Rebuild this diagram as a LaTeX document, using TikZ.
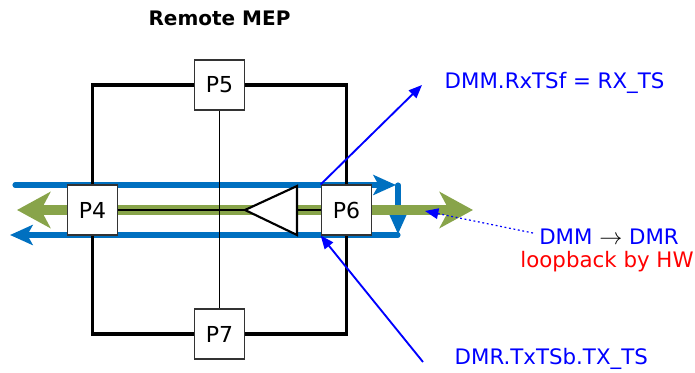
\documentclass[tikz,border=0pt]{standalone}
\usepackage{fontspec}
\setmainfont{DejaVu Sans}
\usepackage{xcolor}
\usepackage{tikz}
\usetikzlibrary{arrows.meta}
\definecolor{portblue}{HTML}{0070C0}
\definecolor{loopgreen}{HTML}{88A44A}

\begin{document}
\begin{tikzpicture}[x=0.75pt,y=-0.75pt,
    port/.style={draw=black!80,fill=white,line width=0.8pt,minimum width=38pt,minimum height=37.5pt,inner sep=0pt,font=\fontsize{16.5}{19}\selectfont},
    frame/.style={line width=2.7pt},
    flow/.style={portblue,line width=3.8pt,line cap=round,-{Stealth[length=17pt,width=15pt,inset=4pt]}},
    hwloop/.style={loopgreen,line width=7.5pt,{Stealth[length=25pt,width=27pt,inset=7pt]}-{Stealth[length=25pt,width=27pt,inset=7pt]}},
    note/.style={blue,line width=1.4pt,-{Triangle[length=10pt,width=8pt]}},
    lbl/.style={font=\fontsize{16}{19}\selectfont}]
\useasboundingbox (0,0) rectangle (695,373);
    \coordinate (ts) at (15,185);
    \coordinate (tr) at (396,185);
    \coordinate (rt) at (398,185);
    \coordinate (rb) at (398,234);
    \coordinate (br) at (398,235);
    \coordinate (bs) at (10,235);
    \coordinate (gl) at (17,210);
    \coordinate (gr) at (473,210);
  \draw[flow] (ts) -- (tr);
  \draw[flow] (rt) -- (rb);
  \draw[flow] (br) -- (bs);
  \draw[hwloop] (gl) -- (gr);
    \coordinate (base) at (297,210);
    \coordinate (tip) at (245,210);
  \draw[fill=white,line width=1.6pt,line join=miter] (297,186) -- (tip) -- (297,235) -- cycle;
\node[port] at (219.5,85) (p5) {P5};
\node[port] at (92.5,210) (p4) {P4};
\node[port] at (346.5,210) (p6) {P6};
\node[port] at (219.5,334) (p7) {P7};
  \draw[frame] (p5) -| (p4);
  \draw[frame] (p4) |- (p7);
  \draw[frame] (p7) -| (p6);
  \draw[frame] (p6) |- (p5);
  \draw[line width=1.6pt] (p4) -- (tip);
  \draw[line width=1.6pt] (base) -- (p6);
  \draw[line width=1.4pt] (p5) -- (p7);
\node[font=\bfseries\fontsize{15}{18}\selectfont] at (219.5,18) (title) {Remote MEP};
\node[lbl,blue,anchor=west] at (440,83) (rx) {DMM.RxTSf = RX\_TS};
\node[lbl,blue,anchor=west] at (450,359) (tx) {DMR.TxTSb.TX\_TS};
\node[lbl,blue] at (609,237) (dir) {DMM \textcolor{black}{$\rightarrow$} DMR};
\node[lbl,red] at (607,262) (lb) {loopback by HW};
    \coordinate (rxend) at (422,85);
    \coordinate (txstart) at (423,362);
    \coordinate (lbstart) at (533,233);
    \coordinate (gtip) at (425,211);
  \draw[note] (p6.north west) -- (rxend);
  \draw[note] (txstart) -- (p6.south west);
  \draw[note,dotted,line width=0.9pt] (lbstart) -- (gtip);
\end{tikzpicture}
\end{document}
